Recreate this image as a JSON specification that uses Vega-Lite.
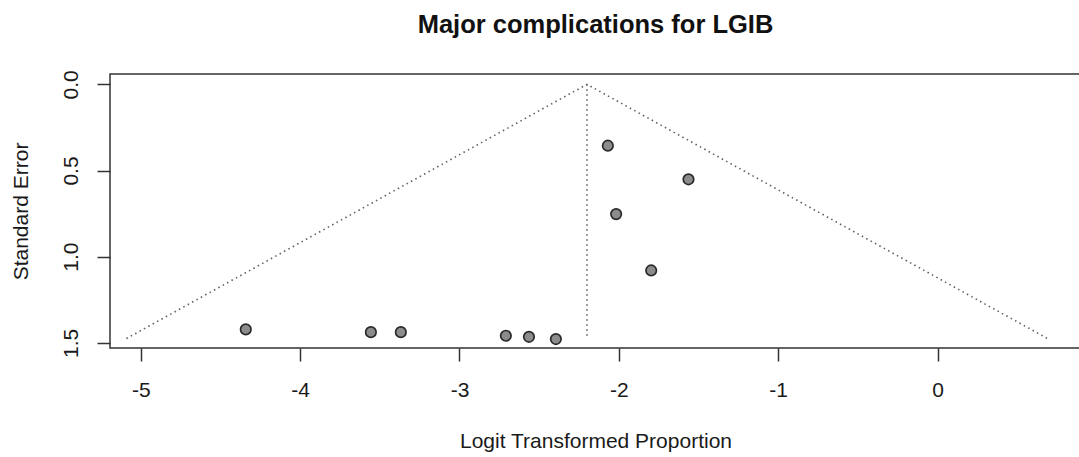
{
  "$schema": "https://vega.github.io/schema/vega-lite/v6.json",
  "width": 971,
  "height": 274,
  "autosize": {"type": "none"},
  "padding": {"left": 110, "top": 74, "right": 0, "bottom": 109},
  "background": "white",
  "config": {
    "font": "Liberation Sans",
    "view": {"stroke": "#333333", "strokeWidth": 1.5},
    "axis": {"grid": false, "domain": false, "tickColor": "#333333", "tickWidth": 1.5, "tickSize": 13,
      "labelFont": "Liberation Sans", "labelFontSize": 21, "labelColor": "#1a1a1a",
      "titleFont": "Liberation Sans", "titleFontSize": 21, "titleFontWeight": "normal", "titleColor": "#1a1a1a"}
  },
  "title": {"text": "Major complications for LGIB", "fontSize": 25.5, "fontWeight": "bold", "font": "Liberation Sans", "color": "#111111", "anchor": "middle", "offset": 31},
  "datasets": {
    "studies": [
      {"logit": -2.069, "se": 0.356},
      {"logit": -1.563, "se": 0.551},
      {"logit": -2.017, "se": 0.753},
      {"logit": -1.797, "se": 1.08},
      {"logit": -4.341, "se": 1.422},
      {"logit": -3.556, "se": 1.438},
      {"logit": -3.368, "se": 1.438},
      {"logit": -2.709, "se": 1.459},
      {"logit": -2.564, "se": 1.465},
      {"logit": -2.395, "se": 1.478}
    ],
    "funnel": [
      {"logit": -5.09, "se": 1.475, "order": 1},
      {"logit": -2.2, "se": 0, "order": 2},
      {"logit": 0.69, "se": 1.475, "order": 3}
    ],
    "center": [
      {"logit": -2.2, "se0": 0, "se1": 1.475}
    ]
  },
  "layer": [
    {
      "data": {"name": "funnel"},
      "mark": {"type": "line", "color": "#606060", "strokeWidth": 1.6, "strokeDash": [1.5, 3.5], "clip": true},
      "encoding": {
        "x": {"field": "logit", "type": "quantitative",
          "scale": {"domain": [-5.193, 0.9], "nice": false, "zero": false},
          "axis": {"values": [-5, -4, -3, -2, -1, 0], "labelExpr": "'' + datum.value", "labelPadding": 18, "title": "Logit Transformed Proportion", "titlePadding": 30}},
        "y": {"field": "se", "type": "quantitative",
          "scale": {"domain": [-0.06, 1.53], "reverse": true, "nice": false, "zero": false},
          "axis": {"values": [0, 0.5, 1, 1.5], "format": ".1f", "labelAngle": 270, "labelAlign": "center", "labelBaseline": "bottom", "labelPadding": 16, "title": "Standard Error", "titlePadding": 29}},
        "order": {"field": "order", "type": "quantitative"}
      }
    },
    {
      "data": {"name": "center"},
      "mark": {"type": "rule", "color": "#606060", "strokeWidth": 1.6, "strokeDash": [1.5, 3.5]},
      "encoding": {
        "x": {"field": "logit", "type": "quantitative"},
        "y": {"field": "se0", "type": "quantitative"},
        "y2": {"field": "se1"}
      }
    },
    {
      "data": {"name": "studies"},
      "mark": {"type": "point", "filled": true, "shape": "circle", "size": 110, "fill": "#8c8c8c", "fillOpacity": 1, "stroke": "#2a2a2a", "strokeWidth": 1.7, "opacity": 1},
      "encoding": {
        "x": {"field": "logit", "type": "quantitative"},
        "y": {"field": "se", "type": "quantitative"}
      }
    }
  ]
}
